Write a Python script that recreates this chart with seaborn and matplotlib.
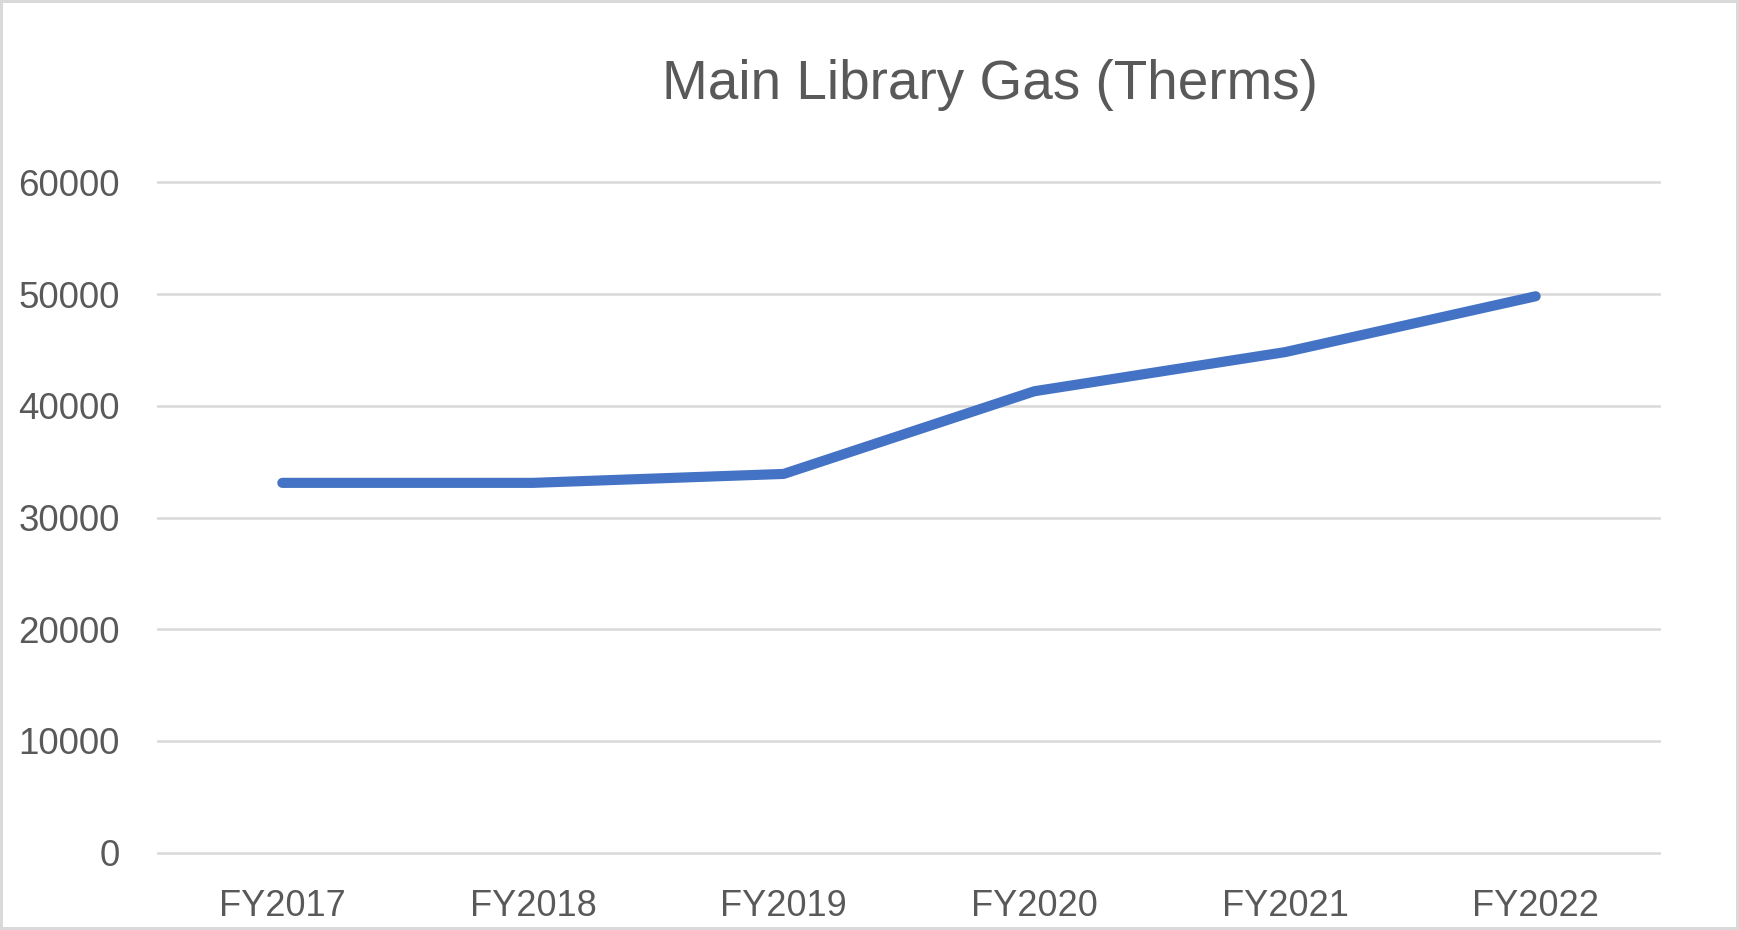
import matplotlib
matplotlib.use("Agg")
import matplotlib.pyplot as plt
import matplotlib.patches as mpatches
import seaborn as sns
import pandas as pd

years = ["FY2017", "FY2018", "FY2019", "FY2020", "FY2021", "FY2022"]
therms = [33100, 33100, 33900, 41300, 44800, 49800]
y_ticks = [0, 10000, 20000, 30000, 40000, 50000, 60000]
title = "Main Library Gas (Therms)"

sns.set_theme(style="white")
plt.rcParams['font.family'] = ['Liberation Sans', 'DejaVu Sans']

W, H = 1739, 930
fig = plt.figure(figsize=(W / 100, H / 100), dpi=100)
fig.patch.set_facecolor("white")

pad = 300
ppu = (852.7 - 182.3) / 60000.0
left = 157 / W
width = (1661 - 157) / W
bottom = 1 - (852.7 + pad * ppu) / H
top = 1 - (182.3 - pad * ppu) / H
ax = fig.add_axes([left, bottom, width, top - bottom])

df = pd.DataFrame({"year": years, "therms": therms})
sns.lineplot(data=df, x="year", y="therms", ax=ax, color="#4472C4",
             linewidth=7.3, sort=False)
for l in ax.lines:
    l.set_solid_capstyle("round")
    l.set_solid_joinstyle("round")

ax.set_xlim(-0.5, len(years) - 0.5)
ax.set_ylim(y_ticks[0] - pad, y_ticks[-1] + pad)
ax.set_yticks(y_ticks)
ax.set_yticklabels([str(t) for t in y_ticks])
ax.set_xlabel("")
ax.set_ylabel("")
ax.grid(axis="y", color="#D9D9D9", linewidth=1.8)
ax.grid(axis="x", visible=False)
ax.set_axisbelow(True)
for s in ax.spines.values():
    s.set_visible(False)
ax.tick_params(axis="y", length=0, pad=27, labelsize=26.5, labelcolor="#595959")
ax.tick_params(axis="x", length=0, pad=24, labelsize=26, labelcolor="#595959")

fig.text(990 / W, 1 - 99 / H, title, ha="center", va="baseline",
         fontsize=39.5, color="#595959")

fig.patches.append(mpatches.Rectangle((0, 0), 1, 1, transform=fig.transFigure,
                                      fill=False, edgecolor="#D9D9D9",
                                      linewidth=4.3))

fig.savefig("out.png", dpi=100, facecolor="white")
